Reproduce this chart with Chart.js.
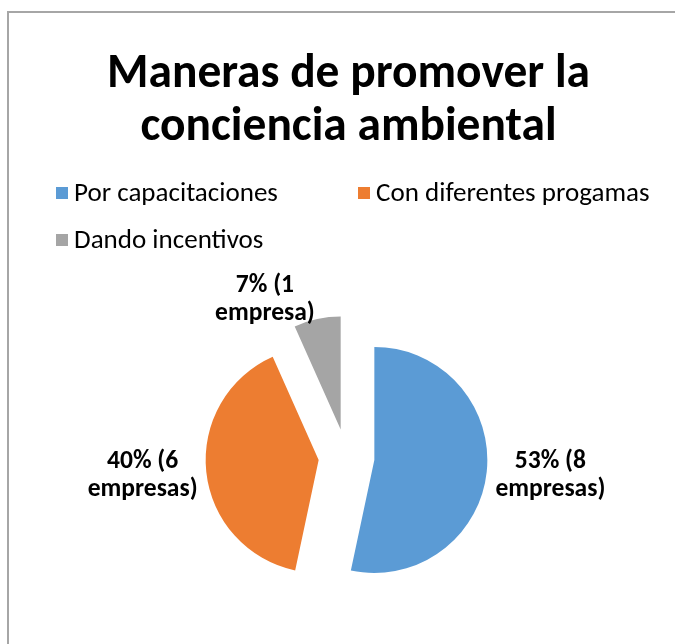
<!DOCTYPE html>
<html>
<head>
<meta charset="utf-8">
<script src="https://cdn.jsdelivr.net/npm/chart.js@4/dist/chart.umd.min.js"></script>
<style>
html,body{margin:0;padding:0;background:#fff;overflow:hidden;}
#wrap{position:relative;width:675px;height:644px;}
</style>
</head>
<body>
<div id="wrap"><canvas id="c" width="675" height="644"></canvas></div>
<script>
// ---- data ----
const titleLines = ["Maneras de promover la", "conciencia ambiental"];
const categories = ["Por capacitaciones", "Con diferentes progamas", "Dando incentivos"];
const empresas = [8, 6, 1];
const sliceColors = ["#5B9BD5", "#ED7D31", "#A5A5A5"];

// ---- font helpers ----
const FAMILY = "Carlito, Lato, 'DejaVu Sans', sans-serif";
const mctx = document.createElement('canvas').getContext('2d');
function fitSize(text, weight, target) {
  mctx.font = weight + " 100px " + FAMILY;
  return 100 * target / mctx.measureText(text).width;
}
const titleSize = fitSize(titleLines[0], "bold", 483);
const legendSize = fitSize(categories[0], "normal", 204);
const labelSize = fitSize("empresas)", "bold", 110);

function labelText(i) {
  const total = empresas.reduce((a, b) => a + b, 0);
  const pct = Math.round(empresas[i] / total * 100);
  const unit = empresas[i] === 1 ? "empresa)" : "empresas)";
  return [pct + "% (" + empresas[i], unit];
}

// ---- plugins ----
const explodePlugin = {
  id: 'explode',
  afterDatasetUpdate(chart, args, opts) {
    args.meta.data.forEach(arc => {
      const mid = (arc.startAngle + arc.endAngle) / 2;
      arc.x += Math.cos(mid) * opts.distance;
      arc.y += Math.sin(mid) * opts.distance;
    });
  }
};

const decorPlugin = {
  id: 'decor',
  beforeDraw(chart) {
    const ctx = chart.ctx;
    ctx.save();
    ctx.fillStyle = '#ffffff';
    ctx.fillRect(0, 0, chart.width, chart.height);
    ctx.strokeStyle = '#a6a6a6';
    ctx.lineWidth = 2;
    ctx.beginPath();
    ctx.moveTo(8, chart.height + 2);
    ctx.lineTo(8, 12);
    ctx.lineTo(chart.width + 2, 12);
    ctx.stroke();
    // title
    ctx.fillStyle = '#000000';
    ctx.font = "bold " + titleSize.toFixed(2) + "px " + FAMILY;
    ctx.textAlign = 'center';
    ctx.textBaseline = 'alphabetic';
    ctx.fillText(titleLines[0], 348.5, 87);
    ctx.fillText(titleLines[1], 348.5, 140);
    // legend
    const pos = [[56, 193], [358, 193], [56, 240]];
    ctx.font = legendSize.toFixed(2) + "px " + FAMILY;
    ctx.textAlign = 'left';
    ctx.textBaseline = 'middle';
    chart.data.labels.forEach((lab, i) => {
      const [x, y] = pos[i];
      ctx.fillStyle = chart.data.datasets[0].backgroundColor[i];
      ctx.fillRect(x, y - 6, 12, 12);
      ctx.fillStyle = '#000000';
      ctx.fillText(lab, x + 18, y + 1);
    });
    ctx.restore();
  },
  afterDatasetsDraw(chart, args, opts) {
    const ctx = chart.ctx;
    const meta = chart.getDatasetMeta(0);
    ctx.save();
    ctx.font = "bold " + labelSize.toFixed(2) + "px " + FAMILY;
    ctx.fillStyle = '#000000';
    ctx.textAlign = 'center';
    ctx.textBaseline = 'middle';
    const lh = 28;
    meta.data.forEach((arc, i) => {
      const lines = labelText(i);
      const mid = (arc.startAngle + arc.endAngle) / 2;
      const c = Math.cos(mid), s = Math.sin(mid);
      const r = arc.outerRadius + opts.pad;
      const w = Math.max(...lines.map(t => ctx.measureText(t).width));
      const h = lines.length * lh;
      const nudge = opts.nudge[i];
      const cx = arc.x + c * r + c * w / 2 + nudge[0];
      const cy = arc.y + s * r + s * h / 2 + nudge[1];
      lines.forEach((t, k) => {
        ctx.fillText(t, cx, cy - h / 2 + lh / 2 + k * lh);
      });
    });
    ctx.restore();
  }
};

new Chart(document.getElementById('c'), {
  type: 'pie',
  data: {
    labels: categories,
    datasets: [{
      data: empresas,
      backgroundColor: sliceColors,
      borderWidth: 0
    }]
  },
  options: {
    responsive: false,
    animation: false,
    events: [],
    radius: 113,
    rotation: 0,
    layout: { padding: { left: 120, right: 102, top: 330, bottom: 60 } },
    plugins: {
      legend: { display: false },
      title: { display: false },
      tooltip: { enabled: false },
      explode: { distance: 28 },
      decor: { pad: 9, nudge: [[0, 0], [0, 0], [-40, 17]] }
    }
  },
  plugins: [explodePlugin, decorPlugin]
});
</script>
</body>
</html>
